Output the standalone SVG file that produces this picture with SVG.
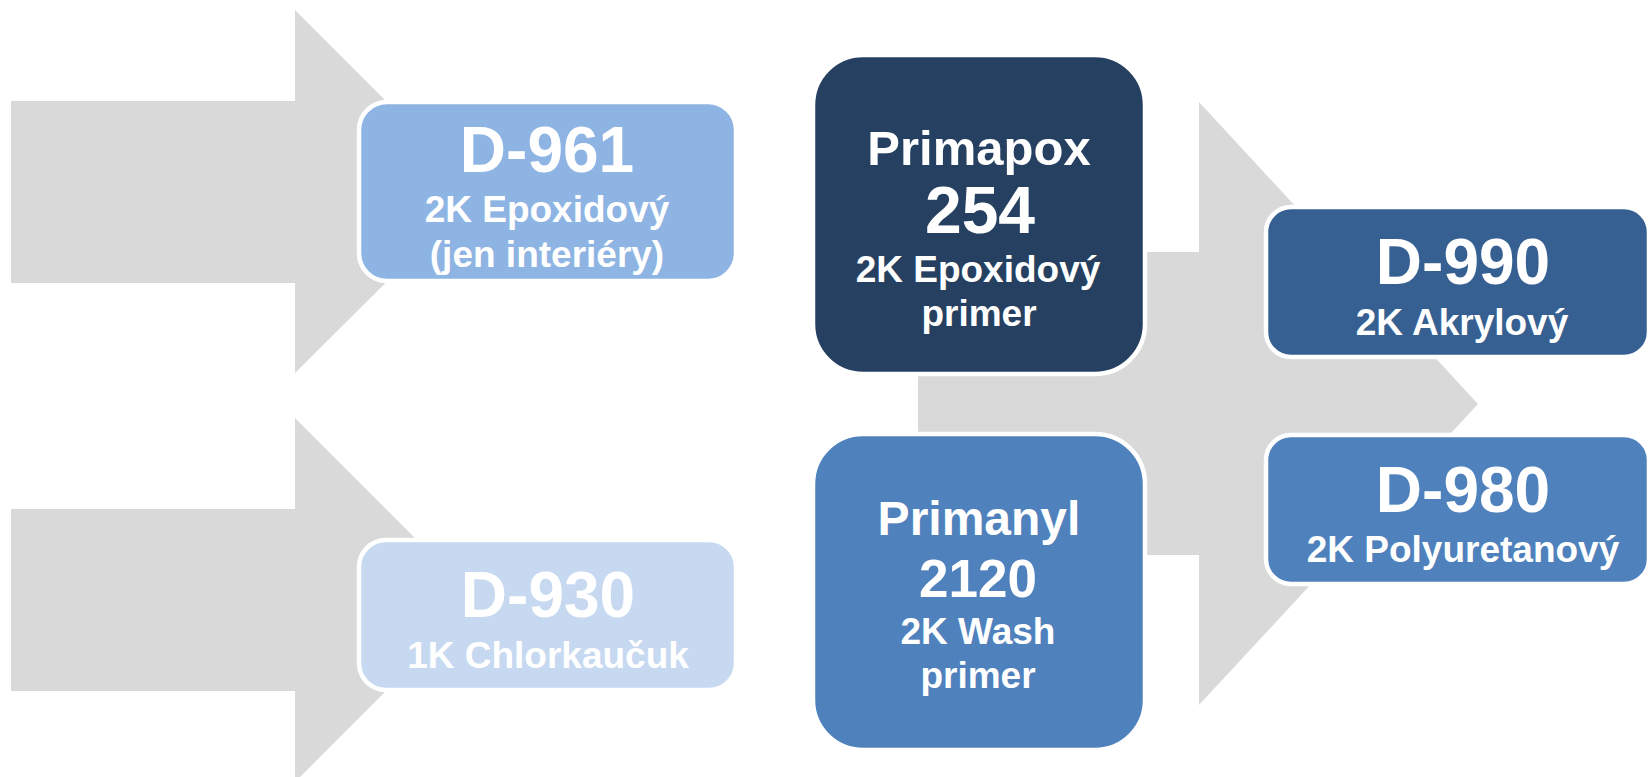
<svg xmlns="http://www.w3.org/2000/svg" width="1651" height="777" viewBox="0 0 1651 777">
<style>
.arrow{fill:#D9D9D9;stroke:none}
.box{stroke:#FFFFFF;stroke-width:4.5}
text{font-family:"Liberation Sans",Arial,sans-serif;font-weight:bold;fill:#FFFFFF;text-anchor:middle}
.big{font-size:64px}
.sub{font-size:37px}
</style>
<rect x="0" y="0" width="1651" height="777" fill="#FFFFFF"/>
<g id="connectors">
<polygon class="arrow" points="11,101 295,101 295,10 477,192 295,373 295,283 11,283"/>
<polygon class="arrow" points="11,509 295,509 295,418 477,600 295,782 295,691 11,691"/>
<polygon class="arrow" points="918,252 1199,252 1199,102 1478,404 1199,705 1199,555 918,555"/>
</g>
<g id="node-d961">
<rect class="box" x="359" y="102" width="377" height="179" rx="28" fill="#8EB4E3"/>
<text class="big" x="547" y="172">D-961</text>
<text class="sub" x="547" y="222">2K Epoxidový</text>
<text class="sub" x="547" y="267">(jen interiéry)</text>
</g>
<g id="node-d930">
<rect class="box" x="359" y="540" width="377" height="150" rx="27" fill="#C6D9F1"/>
<text class="big" x="548" y="617">D-930</text>
<text class="sub" x="548" y="668">1K Chlorkaučuk</text>
</g>
<g id="node-primapox">
<rect class="box" x="813" y="55" width="332" height="319" rx="50" fill="#254061"/>
<text x="979" y="165" style="font-size:49px">Primapox</text>
<text x="980" y="233" style="font-size:66px">254</text>
<text class="sub" x="978" y="282">2K Epoxidový</text>
<text class="sub" x="979" y="326">primer</text>
</g>
<g id="node-primanyl">
<rect class="box" x="813" y="434" width="332" height="316" rx="50" fill="#4F81BD"/>
<text x="979" y="535" style="font-size:48px">Primanyl</text>
<text x="978" y="597" style="font-size:53px">2120</text>
<text class="sub" x="978" y="644">2K Wash</text>
<text class="sub" x="978" y="688">primer</text>
</g>
<g id="node-d990">
<rect class="box" x="1266" y="207" width="383" height="150" rx="25" fill="#376092"/>
<text class="big" x="1463" y="284">D-990</text>
<text class="sub" x="1462" y="335">2K Akrylový</text>
</g>
<g id="node-d980">
<rect class="box" x="1266" y="435" width="383" height="149" rx="25" fill="#4F81BD"/>
<text class="big" x="1463" y="512">D-980</text>
<text class="sub" x="1463" y="562">2K Polyuretanový</text>
</g>
</svg>
